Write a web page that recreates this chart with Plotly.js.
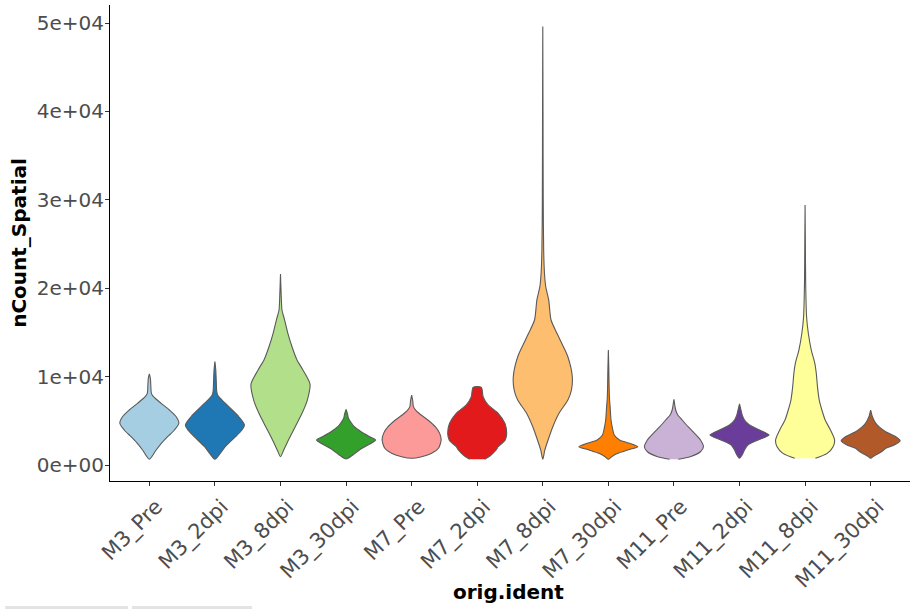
<!DOCTYPE html>
<html>
<head>
<meta charset="utf-8">
<script src="https://cdn.plot.ly/plotly-3.0.1.min.js"></script>
<style>html,body{margin:0;padding:0;background:#fff;}#chart{width:911px;height:609px;}</style>
</head>
<body>
<div id="chart"></div>
<script>
// Categories (orig.ident)
const categories = ["M3_Pre","M3_2dpi","M3_8dpi","M3_30dpi","M7_Pre","M7_2dpi","M7_8dpi","M7_30dpi","M11_Pre","M11_2dpi","M11_8dpi","M11_30dpi"];
const colors = ["#A6CEE3","#1F78B4","#B2DF8A","#33A02C","#FB9A99","#E31A1C","#FDBF6F","#FF7F00","#CAB2D6","#6A3D9A","#FFFF99","#B15928"];

// Violin outlines: nCount_Spatial values (ascending)
const profileValues = [
  [650,1700,2500,3200,3960,4720,5460,6220,6980,7730,8110,9000,9800,10300],
  [650,1320,2070,3200,3900,4520,5460,6600,7350,7920,8400,9500,10700,11700],
  [940,1700,2830,4330,5850,7350,9160,10750,11880,13380,14900,16400,17530,18670,21600],
  [680,1130,1700,2260,2830,3200,3770,4330,4900,5280,5770,6300],
  [760,940,1320,1890,2830,3580,4330,5090,5650,6140,6600,7200,7900],
  [650,1130,1700,2070,2830,3580,4710,5850,6790,7730,8790],
  [650,1700,2830,4330,5850,7350,8480,9990,12250,13380,14900,16400,18670,20170,21700,24300,30000,40000,49600],
  [650,940,1320,1700,2070,2450,2830,3390,4150,5090,6600,7400,9000,11000,13000],
  [650,940,1500,2070,2830,3580,4330,5090,5650,6220,7430],
  [760,1130,1700,2260,2830,3390,3960,4520,5090,5660,6220,6900],
  [760,1320,2070,2830,3960,5090,6220,7350,8860,10370,11500,13000,14900,16800,20550,25000,29400],
  [760,1020,1320,1620,1890,2260,2750,3200,3770,4330,4900,5460,6220]
];
// Relative half-widths (density, scaled to max 1 per violin) at those values
const profileWidths = [
  [0,0.23,0.42,0.62,0.85,1.0,0.91,0.68,0.4,0.14,0.07,0.05,0.035,0],
  [0,0.18,0.35,0.7,0.9,1.0,0.81,0.47,0.24,0.09,0.06,0.045,0.03,0],
  [0,0.11,0.27,0.5,0.73,0.91,1.0,0.76,0.56,0.39,0.25,0.14,0.05,0.03,0],
  [0,0.23,0.45,0.74,1.0,0.8,0.51,0.28,0.15,0.08,0.05,0],
  [0,0.34,0.68,0.91,1.0,0.95,0.8,0.55,0.32,0.15,0.06,0.04,0],
  [0.26,0.47,0.64,0.71,0.95,1.0,0.94,0.71,0.37,0.2,0.14],
  [0,0.07,0.18,0.34,0.55,0.85,0.97,1.0,0.85,0.7,0.48,0.28,0.2,0.1,0.057,0.03,0.015,0.008,0],
  [0,0.11,0.32,0.66,1.0,0.72,0.38,0.2,0.14,0.09,0.06,0.04,0.025,0.015,0],
  [0.15,0.55,0.9,1.0,0.9,0.7,0.48,0.28,0.13,0.06,0],
  [0,0.09,0.17,0.28,0.63,1.0,0.68,0.34,0.17,0.09,0.05,0],
  [0.35,0.75,0.95,1.0,0.86,0.68,0.57,0.48,0.42,0.38,0.33,0.21,0.11,0.05,0.02,0.01,0],
  [0,0.11,0.28,0.42,0.51,0.8,1.0,0.85,0.51,0.28,0.14,0.06,0]
];

// Y tick labels
const yTickVals = [0,10000,20000,30000,40000,50000];
const yTickText = ["0e+00","1e+04","2e+04","3e+04","4e+04","5e+04"];

const halfMax = 0.45;
const traces = categories.map((cat, i) => {
  const v = profileValues[i], w = profileWidths[i];
  const xs = [], ys = [];
  for (let k = 0; k < v.length; k++) { xs.push(i - halfMax * w[k]); ys.push(v[k]); }
  for (let k = v.length - 1; k >= 0; k--) { xs.push(i + halfMax * w[k]); ys.push(v[k]); }
  return {
    type: "scatter", mode: "lines", x: xs, y: ys, name: cat,
    fill: "toself", fillcolor: colors[i],
    line: {color: "#5a5a5a", width: 1.1, shape: "spline", smoothing: 0.7},
    hoverinfo: "skip", showlegend: false
  };
});

const layout = {
  width: 911, height: 609,
  margin: {l: 110, r: 1, t: 5, b: 128, pad: 0},
  paper_bgcolor: "#ffffff", plot_bgcolor: "#ffffff",
  font: {family: "DejaVu Sans, sans-serif", size: 20, color: "#4D4D4D"},
  showlegend: false,
  xaxis: {
    range: [-0.6, 11.6], tickvals: categories.map((c, i) => i), ticktext: categories,
    tickangle: -45, showgrid: false, zeroline: false,
    showline: true, linecolor: "#000000", linewidth: 1,
    ticks: "outside", ticklen: 4, tickcolor: "#333333", tickwidth: 1,
    ticklabelshift: 7,
    tickfont: {family: "DejaVu Sans, sans-serif", size: 21, color: "#4D4D4D"},
    fixedrange: true
  },
  yaxis: {
    range: [-1810, 52036], tickvals: yTickVals, ticktext: yTickText,
    showgrid: false, zeroline: false,
    showline: true, linecolor: "#000000", linewidth: 1,
    ticks: "outside", ticklen: 4, tickcolor: "#333333", tickwidth: 1,
    ticklabelstandoff: -3,
    tickfont: {family: "DejaVu Sans, sans-serif", size: 20, color: "#4D4D4D"},
    title: {text: "nCount_Spatial", font: {family: "DejaVu Sans, sans-serif", size: 20, color: "#000000", weight: "bold"}, standoff: 4},
    fixedrange: true
  },
  annotations: [
    {text: "<b>orig.ident</b>", xref: "paper", yref: "paper", x: 0.4975, y: -0.2332,
     xanchor: "center", yanchor: "middle", showarrow: false,
     font: {family: "DejaVu Sans, sans-serif", size: 20, color: "#000000"}}
  ],
  shapes: [
    {type: "rect", xref: "paper", yref: "paper", x0: -0.131, x1: 0.0225, y0: -0.2626, y1: -0.2711, fillcolor: "#e3e3e3", line: {width: 0}},
    {type: "rect", xref: "paper", yref: "paper", x0: 0.0275, x1: 0.1775, y0: -0.2626, y1: -0.2711, fillcolor: "#e3e3e3", line: {width: 0}}
  ]
};

Plotly.newPlot("chart", traces, layout, {displayModeBar: false, staticPlot: true});
</script>
</body>
</html>
